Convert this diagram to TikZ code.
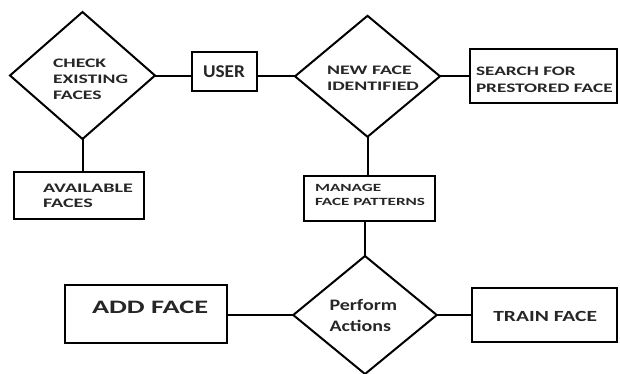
\documentclass[tikz,border=0pt]{standalone}
\usepackage{fontspec}
\usepackage{graphicx}
\setmainfont{Carlito}
\usetikzlibrary{shapes.geometric}
\newcommand\txt[4]{\scalebox{#2}[1]{\fontsize{#1}{#3}\selectfont\bfseries\begin{tabular}[t]{@{}l@{}}#4\end{tabular}}}
\tikzset{
  shp/.style={draw=black, line width=2pt, inner sep=0pt, outer sep=0pt},
  dia/.style={shp, diamond},
  boxx/.style={shp, rectangle},
  lbl/.style={anchor=base west, inner sep=0pt, outer sep=0pt, text=black!85},
  con/.style={draw=black, line width=2pt}
}
\begin{document}
\begin{tikzpicture}[x=1pt,y=-1pt]
\useasboundingbox (0,0) rectangle (620,373);
\clip (0,0) rectangle (620,373);
% shapes
\node[dia, minimum width=145pt, minimum height=127pt] (chk) at (82.5,75.5) {};
\node[dia, minimum width=145pt, minimum height=121pt] (newf) at (367.5,76.3) {};
\node[dia, minimum width=143.5pt, minimum height=118pt] (perf) at (365,315) {};
\node[boxx, minimum width=64.7pt, minimum height=38.7pt] (user) at (224.3,71.3) {};
\node[boxx, minimum width=147pt, minimum height=54pt] (search) at (543.5,75.5) {};
\node[boxx, minimum width=130pt, minimum height=47pt] (avail) at (79,195.5) {};
\node[boxx, minimum width=131pt, minimum height=45pt] (mng) at (369.5,198.5) {};
\node[boxx, minimum width=162pt, minimum height=58pt] (add) at (146,314) {};
\node[boxx, minimum width=145pt, minimum height=54pt] (train) at (544.5,315) {};
% texts
\node[lbl] (tchk) at (53,67) {\txt{13}{1.51}{16.2}{CHECK\\EXISTING\\FACES}};
\node[lbl] (tnewf) at (327,74) {\txt{13}{1.52}{16.7}{NEW FACE\\IDENTIFIED}};
\node[lbl] (tsearch) at (476,75) {\txt{13}{1.48}{17}{SEARCH FOR\\PRESTORED FACE}};
\node[lbl] (tuser) at (203,77) {\txt{18}{1.07}{20}{USER}};
\node[lbl] (tavail) at (43,192.5) {\txt{13}{1.55}{15.2}{AVAILABLE\\FACES}};
\node[lbl] (tmng) at (315,191.3) {\txt{11}{1.56}{14}{MANAGE\\FACE PATTERNS}};
\node[lbl] (tadd) at (92,313.3) {\txt{19}{1.49}{22}{ADD FACE}};
\node[lbl] (tperf) at (329.5,310.7) {\txt{16}{1.25}{21}{Perform\\Actions}};
\node[lbl] (ttrain) at (493.3,321.7) {\txt{15.5}{1.385}{18}{TRAIN FACE}};
% connectors
\draw[con] (chk.east) -- (chk.east -| user.west);
\draw[con] (newf.west -| user.east) -- (newf.west);
\draw[con] (newf.east) -- (newf.east -| search.west);
\draw[con] (chk.south) -- (chk.south |- avail.north);
\draw[con] (newf.south) -- (newf.south |- mng.north);
\draw[con] (perf.north |- mng.south) -- (perf.north);
\draw[con] (perf.west -| add.east) -- (perf.west);
\draw[con] (perf.east) -- (perf.east -| train.west);
\end{tikzpicture}
\end{document}
